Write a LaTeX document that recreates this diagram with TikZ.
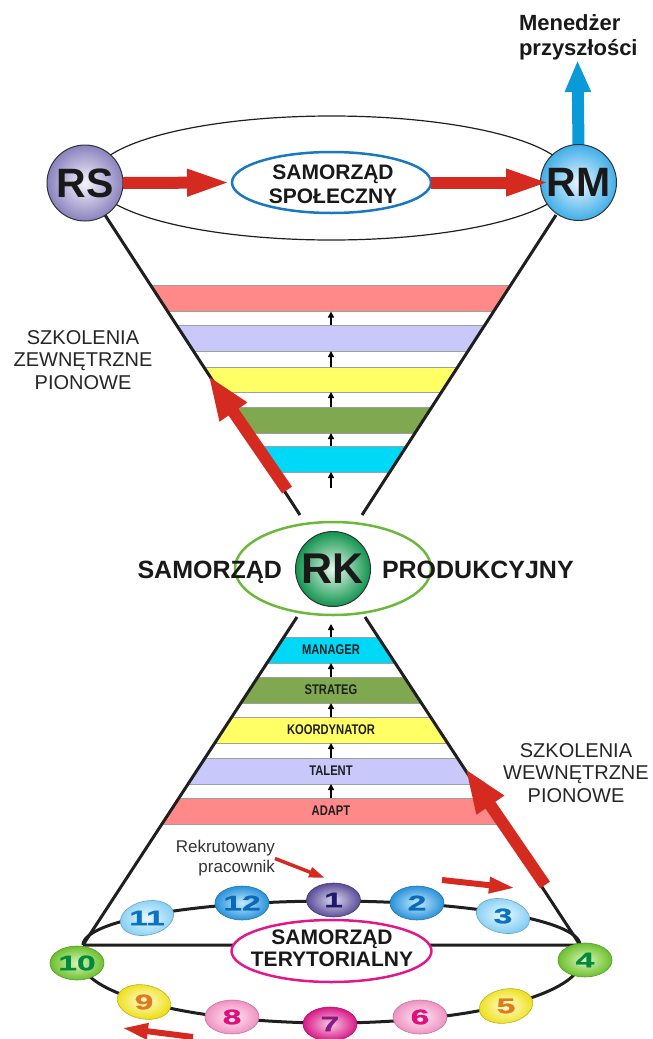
\documentclass[tikz,border=0pt]{standalone}
\usepackage{fontspec}
\setmainfont{Liberation Sans}
\newfontfamily\narrowfont[FakeStretch=0.8]{Liberation Sans}
\newfontfamily\widefont[FakeStretch=1.6,FakeBold=1.2]{Liberation Sans}
\usetikzlibrary{shapes.geometric,arrows.meta}
\definecolor{bandpink}{HTML}{FF8888}
\definecolor{bandlav}{HTML}{C8C8FA}
\definecolor{bandyel}{HTML}{FFFF66}
\definecolor{bandgrn}{HTML}{80A850}
\definecolor{bandcyan}{HTML}{00D8F8}
\definecolor{arrred}{HTML}{D42A20}
\definecolor{arrblue}{HTML}{0A9AD8}
\definecolor{elblue}{HTML}{1A78C0}
\definecolor{elgreen}{HTML}{6CB83A}
\definecolor{elmag}{HTML}{E0188A}
\definecolor{rsout}{HTML}{8A82BE}
\definecolor{rsin}{HTML}{F6F4FC}
\definecolor{rmout}{HTML}{40AEE8}
\definecolor{rmin}{HTML}{E8F6FF}
\definecolor{rkout}{HTML}{12944E}
\definecolor{rkin}{HTML}{E6FAEE}
\definecolor{nAout}{HTML}{5A4C98}
\definecolor{nAin}{HTML}{DCD8EE}
\definecolor{nAtx}{HTML}{1E1A6E}
\definecolor{nBout}{HTML}{2A92DA}
\definecolor{nBin}{HTML}{C4EAFF}
\definecolor{nBtx}{HTML}{0A6AB8}
\definecolor{nCout}{HTML}{84CEF4}
\definecolor{nCin}{HTML}{ECF9FF}
\definecolor{nCtx}{HTML}{0A72C2}
\definecolor{nDout}{HTML}{6CC030}
\definecolor{nDin}{HTML}{DAF5B4}
\definecolor{nDtx}{HTML}{008A40}
\definecolor{nEout}{HTML}{EEDE18}
\definecolor{nEin}{HTML}{FFFFD4}
\definecolor{nEtx}{HTML}{E07A20}
\definecolor{nFout}{HTML}{F092C2}
\definecolor{nFin}{HTML}{FDEAF4}
\definecolor{nFtx}{HTML}{E0107A}
\definecolor{nGout}{HTML}{D81888}
\definecolor{nGin}{HTML}{F8CAE6}
\definecolor{nGtx}{HTML}{8A1A80}
\begin{document}
\begin{tikzpicture}[x=1pt,y=-1pt,line join=round,
  every node/.style={inner sep=0pt,outer sep=0pt},
  sFunnel/.style={draw=black!88,line width=3pt},
  sRing/.style={draw=black!88,line width=3pt},
  sBand/.style={rectangle,draw=gray!75,line width=0.6pt,minimum width=640pt,minimum height=26pt},
  sLab/.style={font=\narrowfont\bfseries\fontsize{14}{14}\selectfont,text=black!88},
  sUp/.style={draw=black,line width=1.8pt,-{Triangle[width=6pt,length=6pt]}},
  sBigRed/.style={draw=arrred,line width=12pt,-{Triangle[width=30pt,length=45pt]}},
  sHRed/.style={draw=arrred,line width=12pt,-{Triangle[width=24pt,length=45pt]}},
  sSmallRed/.style={draw=arrred,line width=6pt,-{Triangle[width=15pt,length=26pt]}},
  sTinyRed/.style={draw=arrred,line width=3.5pt,-{Triangle[width=10pt,length=16pt]}},
  sBlue/.style={draw=arrblue,line width=12pt,-{Triangle[width=24pt,length=32pt]}},
  sBig/.style={circle,draw=black!80,line width=1pt,minimum size=76pt,font=\bfseries\fontsize{41}{41}\selectfont,text=black!90},
  sNum/.style n args={2}{ellipse,draw=#1!80!black,line width=0.6pt,inner color=#2,outer color=#1,minimum width=54pt,minimum height=34pt},
  sDig/.style={font=\widefont\bfseries\fontsize{21}{21}\selectfont}
]
\useasboundingbox (0,0) rectangle (653,1039);

% key points of the funnels
\coordinate (ftl) at (105,215);
\coordinate (ftr) at (556,215);
\coordinate (nul) at (300,515);
\coordinate (nur) at (362,515);
\coordinate (nll) at (297,617);
\coordinate (nlr) at (365,617);
\coordinate (bl) at (83,945);
\coordinate (br) at (580,945);

% top outer ellipse
\node[ellipse,draw=black!88,line width=1.2pt,minimum width=476pt,minimum height=124pt] (rim) at (331.5,178) {};

% upper bands
\begin{scope}
\clip (ftl) -- (ftr) -- (nur) -- (nul) -- cycle;
\node[sBand,fill=bandpink] (ub1) at (331,298.5) {};
\node[sBand,fill=bandlav] (ub2) at (331,338) {};
\node[sBand,fill=bandyel,minimum height=25pt] (ub3) at (331,379.5) {};
\node[sBand,fill=bandgrn] (ub4) at (331,420) {};
\node[sBand,fill=bandcyan] (ub5) at (331,459) {};
\end{scope}
\coordinate (ub6) at (331,488);
\draw[sUp] (ub2.north) -- (ub1.south);
\draw[sUp] (ub3.north) -- (ub2.south);
\draw[sUp] (ub4.north) -- (ub3.south);
\draw[sUp] (ub5.north) -- (ub4.south);
\draw[sUp] (ub6) -- (ub5.south);

% lower bands
\begin{scope}
\clip (nll) -- (nlr) -- (br) -- (bl) -- cycle;
\node[sBand,fill=bandcyan] (lb1) at (331,650) {};
\node[sBand,fill=bandgrn] (lb2) at (331,690) {};
\node[sBand,fill=bandyel] (lb3) at (331,730) {};
\node[sBand,fill=bandlav] (lb4) at (331,771) {};
\node[sBand,fill=bandpink] (lb5) at (331,811) {};
\end{scope}
\node[sLab] (t1) at (331,650) {MANAGER};
\node[sLab] (t2) at (331,690) {STRATEG};
\node[sLab] (t3) at (331,730) {KOORDYNATOR};
\node[sLab] (t4) at (331,771) {TALENT};
\node[sLab] (t5) at (331,811) {ADAPT};
\coordinate (lb0) at (331,624);
\draw[sUp] (lb1.north) -- (lb0);
\draw[sUp] (lb2.north) -- (lb1.south);
\draw[sUp] (lb3.north) -- (lb2.south);
\draw[sUp] (lb4.north) -- (lb3.south);
\draw[sUp] (lb5.north) -- (lb4.south);

% funnel lines
\draw[sFunnel] (ftl) -- (nul) (ftr) -- (nur) (nll) -- (bl) (nlr) -- (br) (bl) -- (br);

% ring
\draw[sRing] plot[domain=180:360,samples=120] ({331.5+248.5*cos(\x)},{945+44*sin(\x)});
\draw[sRing] plot[domain=0:180,samples=120] ({331+250*cos(\x)},{960+63*sin(\x)});

% territorial ellipse
\node[ellipse,draw=elmag,line width=2.5pt,fill=white,minimum width=200pt,minimum height=62pt] (terel) at (331.5,951) {};
\node[font=\bfseries\fontsize{21}{22}\selectfont,align=center,text=black!90] (tertext) at (332,948) {SAMORZĄD\\TERYTORIALNY};

% numbered nodes
\node[sNum={nAout}{nAin}] (n1) at (333.5,900) {};
\node[sNum={nBout}{nBin}] (n2) at (417,903) {};
\node[sNum={nCout}{nCin},rotate=-12] (n3) at (503,916) {};
\node[sNum={nDout}{nDin}] (n4) at (585,960) {};
\node[sNum={nEout}{nEin},rotate=10] (n5) at (506,1006) {};
\node[sNum={nFout}{nFin}] (n6) at (420,1017) {};
\node[sNum={nGout}{nGin}] (n7) at (330,1024) {};
\node[sNum={nFout}{nFin}] (n8) at (232,1017) {};
\node[sNum={nEout}{nEin},rotate=-10] (n9) at (144,1002) {};
\node[sNum={nDout}{nDin}] (n10) at (77,963) {};
\node[sNum={nCout}{nCin},rotate=12] (n11) at (147,918) {};
\node[sNum={nBout}{nBin}] (n12) at (242,903) {};
\node[sDig,text=nAtx] (d1) at (n1) {1};
\node[sDig,text=nBtx] (d2) at (n2) {2};
\node[sDig,text=nCtx] (d3) at (n3) {3};
\node[sDig,text=nDtx] (d4) at (n4) {4};
\node[sDig,text=nEtx] (d5) at (n5) {5};
\node[sDig,text=nFtx] (d6) at (n6) {6};
\node[sDig,text=nGtx] (d7) at (n7) {7};
\node[sDig,text=nFtx] (d8) at (n8) {8};
\node[sDig,text=nEtx] (d9) at (n9) {9};
\node[sDig,text=nDtx] (d10) at (n10) {10};
\node[sDig,text=nCtx] (d11) at (n11) {11};
\node[sDig,text=nBtx] (d12) at (n12) {12};

% recruited worker
\node[font=\fontsize{17}{20}\selectfont,align=right,anchor=east,text=black!80] (rek) at (275,858.5) {Rekrutowany\\pracownik};
\coordinate (rektip) at (325,878);
\draw[sTinyRed] (rek.east) -- (rektip);
\coordinate (ra1) at (442,880);
\coordinate (ra2) at (515,888);
\draw[sSmallRed] (ra1) -- (ra2);
\coordinate (la1) at (193,1037);
\coordinate (la2) at (122,1028);
\draw[sSmallRed] (la1) -- (la2);

% RK centre
\node[ellipse,draw=elgreen,line width=2.5pt,minimum width=196pt,minimum height=93pt] (rkel) at (333,568.5) {};
\node[sBig,inner color=rkin,outer color=rkout,minimum size=75pt,font=\bfseries\fontsize{43}{43}\selectfont] (RK) at (333,569) {RK};
\node[font=\bfseries\fontsize{25}{25}\selectfont,anchor=base east,text=black!90] (samL) at (282,578) {SAMORZĄD};
\node[font=\bfseries\fontsize{25}{25}\selectfont,anchor=base west,text=black!90] (samR) at (382,578) {PRODUKCYJNY};

% top: social self-government
\node[ellipse,draw=elblue,line width=2.5pt,fill=white,minimum width=199pt,minimum height=61pt] (spol) at (331.5,182.5) {};
\node[font=\bfseries\fontsize{21}{24}\selectfont,align=center,text=black!90] (spoltext) at (333,184) {SAMORZĄD\\SPOŁECZNY};
\coordinate (mtip) at (577.5,60);
\node[sBig,inner color=rsin,outer color=rsout] (RS) at (85,183) {RS};
\draw[sBlue] (578.5,146) -- (mtip);
\node[sBig,inner color=rmin,outer color=rmout] (RM) at (578.5,182.5) {RM};
\coordinate (rmtip) at (551,182.5);
\draw[sHRed] (RS.east) -- (spol.west);
\draw[sHRed] (spol.east) -- (rmtip);
\node[font=\bfseries\fontsize{22}{25}\selectfont,align=left,anchor=west,text=black!90] (men) at (519,37) {Menedżer\\przyszłości};

% training labels and big arrows
\node[font=\fontsize{20}{22.5}\selectfont,align=center,text=black!85] (szl) at (83,360) {SZKOLENIA\\ZEWNĘTRZNE\\PIONOWE};
\node[font=\fontsize{20}{22.5}\selectfont,align=center,text=black!85] (szr) at (576,773) {SZKOLENIA\\WEWNĘTRZNE\\PIONOWE};
\coordinate (ua1) at (287,490);
\coordinate (ua2) at (208,375);
\draw[sBigRed] (ua1) -- (ua2);
\coordinate (la3) at (545,885);
\coordinate (la4) at (465,768);
\draw[sBigRed] (la3) -- (la4);
\end{tikzpicture}
\end{document}
